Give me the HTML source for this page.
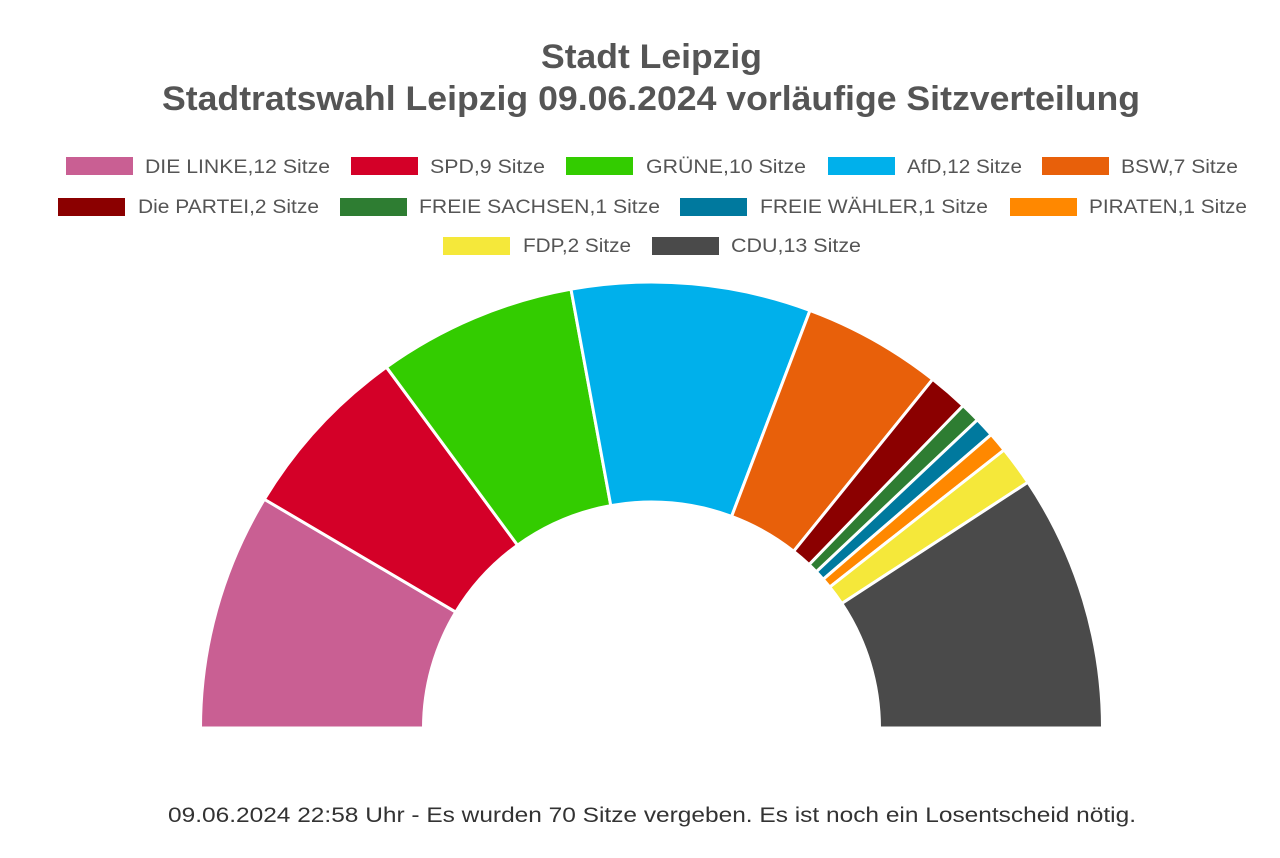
<!DOCTYPE html>
<html><head><meta charset="utf-8"><style>
body{margin:0;background:#fff;width:1280px;height:853px;overflow:hidden;font-family:"Liberation Sans",sans-serif}
</style></head><body>
<svg width="1280" height="853" xmlns="http://www.w3.org/2000/svg">
<text x="541" y="68" textLength="221" lengthAdjust="spacingAndGlyphs" font-size="34" font-weight="bold" fill="#555">Stadt Leipzig</text>
<text x="162" y="110" textLength="978" lengthAdjust="spacingAndGlyphs" font-size="34" font-weight="bold" fill="#555">Stadtratswahl Leipzig 09.06.2024 vorläufige Sitzverteilung</text>
<g font-size="19" fill="#555" lengthAdjust="spacingAndGlyphs">
<rect x="66" y="157" width="67" height="18" fill="#c95f93"/><text x="145" y="173" textLength="185" lengthAdjust="spacingAndGlyphs">DIE LINKE,12 Sitze</text>
<rect x="351" y="157" width="67" height="18" fill="#d40028"/><text x="430" y="173" textLength="115" lengthAdjust="spacingAndGlyphs">SPD,9 Sitze</text>
<rect x="566" y="157" width="67" height="18" fill="#33cc00"/><text x="646" y="173" textLength="160" lengthAdjust="spacingAndGlyphs">GRÜNE,10 Sitze</text>
<rect x="828" y="157" width="67" height="18" fill="#00b0eb"/><text x="907" y="173" textLength="115" lengthAdjust="spacingAndGlyphs">AfD,12 Sitze</text>
<rect x="1042" y="157" width="67" height="18" fill="#e8600a"/><text x="1121" y="173" textLength="117" lengthAdjust="spacingAndGlyphs">BSW,7 Sitze</text>
<rect x="58" y="198" width="67" height="18" fill="#8b0000"/><text x="138" y="213" textLength="181" lengthAdjust="spacingAndGlyphs">Die PARTEI,2 Sitze</text>
<rect x="340" y="198" width="67" height="18" fill="#2e7d32"/><text x="419" y="213" textLength="241" lengthAdjust="spacingAndGlyphs">FREIE SACHSEN,1 Sitze</text>
<rect x="680" y="198" width="67" height="18" fill="#00799e"/><text x="760" y="213" textLength="228" lengthAdjust="spacingAndGlyphs">FREIE WÄHLER,1 Sitze</text>
<rect x="1010" y="198" width="67" height="18" fill="#ff8800"/><text x="1089" y="213" textLength="158" lengthAdjust="spacingAndGlyphs">PIRATEN,1 Sitze</text>
<rect x="443" y="237" width="67" height="18" fill="#f5e83a"/><text x="523" y="252" textLength="108" lengthAdjust="spacingAndGlyphs">FDP,2 Sitze</text>
<rect x="652" y="237" width="67" height="18" fill="#4a4a4a"/><text x="731" y="252" textLength="130" lengthAdjust="spacingAndGlyphs">CDU,13 Sitze</text>
</g>
<g id="arcs" stroke="#fff" stroke-width="3"></g>
<text x="168" y="822" textLength="968" lengthAdjust="spacingAndGlyphs" font-size="21" fill="#333">09.06.2024 22:58 Uhr - Es wurden 70 Sitze vergeben. Es ist noch ein Losentscheid nötig.</text>
</svg>
<script>
var d=[[12,"#c95f93"],[9,"#d40028"],[10,"#33cc00"],[12,"#00b0eb"],[7,"#e8600a"],[2,"#8b0000"],[1,"#2e7d32"],[1,"#00799e"],[1,"#ff8800"],[2,"#f5e83a"],[13,"#4a4a4a"]];
var cx=651.5,cy=728,Rx=451,Ry=446,rx=228,ry=226,acc=0,g=document.getElementById("arcs"),s="";
function p(a,X,Y){return [cx-X*Math.cos(a),cy-Y*Math.sin(a)];}
d.forEach(function(e){var a0=acc/70*Math.PI;acc+=e[0];var a1=acc/70*Math.PI;
var A=p(a0,Rx,Ry),B=p(a1,Rx,Ry),C=p(a1,rx,ry),D=p(a0,rx,ry);
s+='<path fill="'+e[1]+'" d="M'+A+' A'+Rx+' '+Ry+' 0 0 1 '+B+' L'+C+' A'+rx+' '+ry+' 0 0 0 '+D+' Z"/>';});
g.innerHTML=s;
</script>
</body></html>
